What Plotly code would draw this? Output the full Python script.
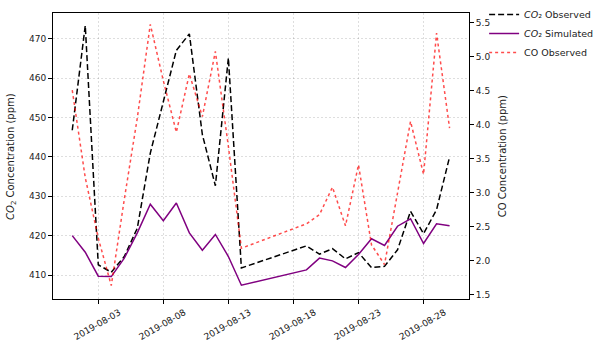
import pandas as pd
import plotly.graph_objects as go

dates = ['2019-08-01', '2019-08-02', '2019-08-03', '2019-08-04', '2019-08-05', '2019-08-06',
         '2019-08-07', '2019-08-08', '2019-08-09', '2019-08-10', '2019-08-11', '2019-08-12',
         '2019-08-13', '2019-08-14', '2019-08-19', '2019-08-20', '2019-08-21', '2019-08-22',
         '2019-08-23', '2019-08-24', '2019-08-25', '2019-08-26', '2019-08-27', '2019-08-28',
         '2019-08-29', '2019-08-30']

co2_obs = [446.8, 473.4, 412.6, 410.7, 414.7, 421.9, 441.0, 454.3, 467.1, 471.3, 445.7, 432.7,
           465.2, 411.8, 417.4, 415.3, 416.7, 414.1, 415.7, 411.9, 412.2, 416.4, 426.2, 420.5,
           426.6, 440.0]

co2_sim = [420.0, 415.8, 409.7, 409.6, 414.3, 420.7, 428.0, 423.8, 428.3, 420.7, 416.3, 420.3,
           414.7, 407.4, 411.3, 414.3, 413.6, 411.9, 415.2, 419.2, 417.5, 422.4, 424.3, 418.0,
           423.0, 422.5]

co_obs = [4.51, 3.22, 2.33, 1.63, 2.9, 4.1, 5.48, 4.65, 3.89, 4.75, 4.12, 5.08,
          3.68, 2.18, 2.54, 2.675, 3.08, 2.51, 3.41, 2.23, 1.94, 3.0, 4.05, 3.27,
          5.35, 3.95]

df = pd.DataFrame({'date': pd.to_datetime(dates), 'co2_obs': co2_obs,
                   'co2_sim': co2_sim, 'co_obs': co_obs})

fig = go.Figure()
fig.add_trace(go.Scatter(x=df['date'], y=df['co2_obs'], mode='lines',
                         name='<i>CO</i>₂ Observed',
                         line=dict(color='black', width=1.5, dash='6px,3px')))
fig.add_trace(go.Scatter(x=df['date'], y=df['co2_sim'], mode='lines',
                         name='<i>CO</i>₂ Simulated',
                         line=dict(color='purple', width=1.5)))
fig.add_trace(go.Scatter(x=df['date'], y=df['co_obs'], mode='lines', yaxis='y2',
                         name='CO Observed',
                         line=dict(color='rgba(255,0,0,0.7)', width=1.5, dash='dot')))

grid = 'rgba(0,0,0,0.13)'
fig.update_layout(
    width=594, height=345,
    margin=dict(l=53, r=125, t=13, b=46, autoexpand=False),
    paper_bgcolor='white', plot_bgcolor='white',
    font=dict(family='DejaVu Sans', size=9, color='#222'),
    showlegend=True,
    legend=dict(xref='container', yref='container', x=0.815, y=1.018,
                xanchor='left', yanchor='top',
                font=dict(size=9.5), bgcolor='rgba(0,0,0,0)',
                tracegroupgap=0, itemwidth=30),
    xaxis=dict(type='date', range=['2019-07-30 12:30', '2019-08-31 11:50'],
               tick0='2019-08-03', dtick=5 * 86400000, tickformat='%Y-%m-%d',
               tickangle=-30, ticklabelshift=21,
               showgrid=True, gridcolor=grid, griddash='2px,2px',
               showline=True, linecolor='black', linewidth=1, mirror=True, automargin=False,
               ticks='outside', ticklen=4, tickcolor='black', zeroline=False),
    yaxis=dict(range=[403.9, 476.6], tick0=410, dtick=10, automargin=False,
               showgrid=True, gridcolor=grid, griddash='2px,2px',
               showline=True, linecolor='black', linewidth=1, mirror=True,
               ticks='outside', ticklen=4, tickcolor='black', zeroline=False),
    yaxis2=dict(range=[1.432, 5.647], tick0=1.5, dtick=0.5, tickformat='.1f',
                overlaying='y', side='right', automargin=False,
                showgrid=False, showline=True, linecolor='black', linewidth=1,
                ticks='outside', ticklen=4, tickcolor='black', zeroline=False),
)

# axis titles placed as rotated annotations
fig.add_annotation(text='<i>CO</i><sub>2</sub> Concentration (ppm)', textangle=-90,
                   xref='paper', yref='paper', x=-0.101, y=0.5, showarrow=False,
                   xanchor='center', yanchor='middle', font=dict(size=10))
fig.add_annotation(text='CO Concentration (ppm)', textangle=-90,
                   xref='paper', yref='paper', x=1.080, y=0.5, showarrow=False,
                   xanchor='center', yanchor='middle', font=dict(size=10))

fig.write_html('out.html', config={'displayModeBar': False},
               post_script="document.body.style.margin='0';")
